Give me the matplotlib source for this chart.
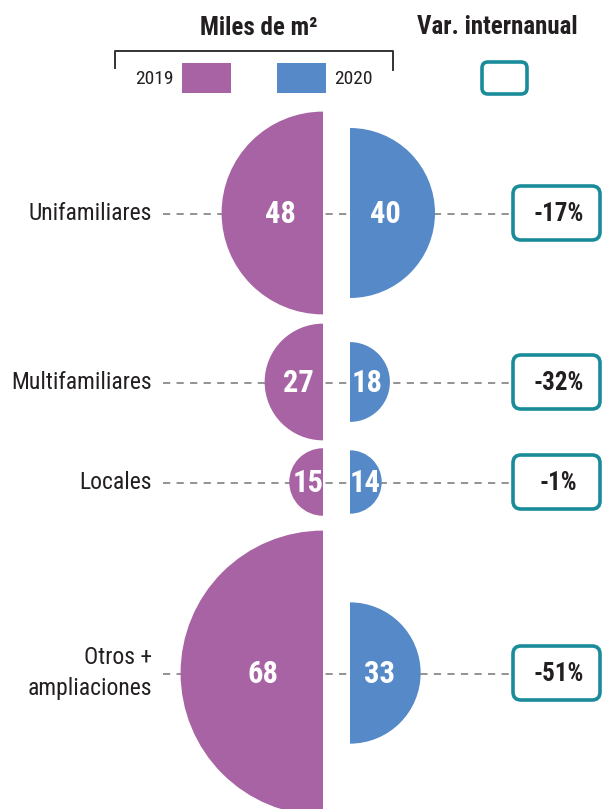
import matplotlib
matplotlib.use("Agg")
import matplotlib.pyplot as plt
from matplotlib import font_manager
from matplotlib.patches import Wedge, FancyBboxPatch, Rectangle

categories = ["Unifamiliares", "Multifamiliares", "Locales", "Otros +\nampliaciones"]
vals_2019 = [48, 27, 15, 68]
vals_2020 = [40, 18, 14, 33]
var_labels = ["-17%", "-32%", "-1%", "-51%"]
years = ["2019", "2020"]

purple = "#A763A3"
blue = "#5589C8"
teal = "#1A8C99"
dark = "#231F20"

# pick a narrow face if one is installed
names = {f.name for f in font_manager.fontManager.ttflist}
fam = "DejaVu Sans"
for cand in ["Liberation Sans Narrow", "DejaVu Sans Condensed", "Roboto Condensed", "Open Sans Condensed"]:
    if cand in names:
        fam = cand
        break
plt.rcParams["font.family"] = [fam, "DejaVu Sans"]

fig = plt.figure(figsize=(6.07, 8.09), dpi=100)
ax = fig.add_axes([0, 0, 1, 1])
ax.set_xlim(0, 607)
ax.set_ylim(809, 0)
ax.set_aspect("equal")
ax.axis("off")

ycent = [213, 382, 482, 673]
x19, x20 = 323, 350
k, r0 = 2.05, 3  # radius = r0 + k * value (px)
box_l, box_r = 513, 600

for cat, v19, v20, var, y in zip(categories, vals_2019, vals_2020, var_labels, ycent):
    r19, r20 = r0 + v19 * k, r0 + v20 * k
    ax.plot([163, box_l], [y + 1, y + 1], ls=(0, (4, 3.5)), color="#8a8a8a", lw=1.3, zorder=1)
    ax.add_patch(Wedge((x19, y), r19, 90, 270, color=purple, lw=0, zorder=2))
    ax.add_patch(Wedge((x20, y), r20, -90, 90, color=blue, lw=0, zorder=2))
    ax.text(x19 - max(0.42 * r19, 15), y + 1, str(v19), color="white", fontsize=22,
            fontweight="bold", ha="center", va="center", zorder=3)
    ax.text(x20 + max(0.42 * r20, 15), y + 1, str(v20), color="white", fontsize=22,
            fontweight="bold", ha="center", va="center", zorder=3)
    ax.text(152, y, cat, color=dark, fontsize=17, ha="right", va="center",
            multialignment="right", linespacing=1.4)
    ax.add_patch(FancyBboxPatch((box_l, y - 27), box_r - box_l, 54,
                                boxstyle="round,pad=0,rounding_size=8",
                                fc="white", ec=teal, lw=2.6, zorder=3))
    ax.text((box_l + box_r) / 2 + 2, y + 1, var, color=dark, fontsize=18,
            fontweight="bold", ha="center", va="center", zorder=4)

# header
ax.text(259, 28, "Miles de m²", color=dark, fontsize=18, fontweight="bold",
        ha="center", va="center")
ax.text(497, 27, "Var. internanual", color=dark, fontsize=18, fontweight="bold",
        ha="center", va="center")
ax.plot([115, 115, 393, 393], [68, 51, 51, 70], color="#333333", lw=1.4)
ax.add_patch(Rectangle((182, 63), 49, 30, color=purple, lw=0))
ax.add_patch(Rectangle((277, 63), 49, 30, color=blue, lw=0))
ax.text(174, 79, years[0], color=dark, fontsize=14, ha="right", va="center")
ax.text(334, 79, years[1], color=dark, fontsize=14, ha="left", va="center")
ax.add_patch(FancyBboxPatch((482, 62), 45, 32, boxstyle="round,pad=0,rounding_size=6",
                            fc="white", ec=teal, lw=2.6))

fig.savefig("out.png", dpi=100)
